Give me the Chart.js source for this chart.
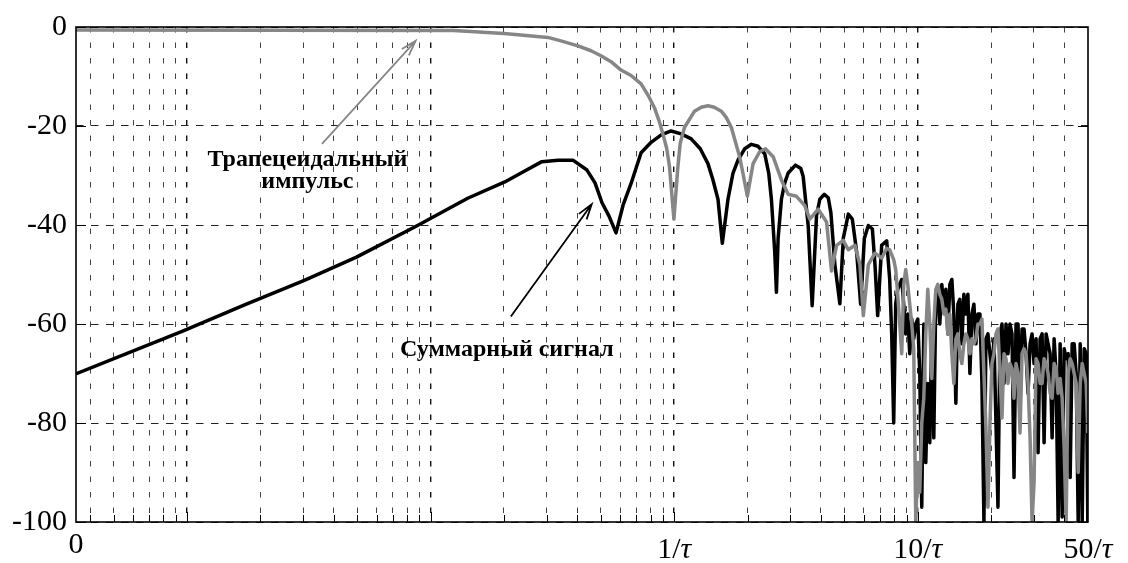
<!DOCTYPE html>
<html>
<head>
<meta charset="utf-8">
<script src="https://cdn.jsdelivr.net/npm/chart.js@4.4.0/dist/chart.umd.min.js"></script>
<style>
  html, body { margin: 0; padding: 0; background: #fff; }
  #wrap { width: 1128px; height: 563px; }
</style>
</head>
<body>
<div id="wrap"><canvas id="spectrum"></canvas></div>
<script>
// Frequency in units of 1/τ (log axis), level in dB.
const X_MIN = 0.0035;
const X_MAX = 50;

const yTicks = [0, -20, -40, -60, -80, -100];

// x tick labels: value, numerator text, "/τ" follows unless '0'
const xTickVals  = [X_MIN, 1, 10, 50];
const xTickTexts = ['0', '1/', '10/', '50/'];

// Суммарный сигнал (black)
const sumFreq = [
  0.00349, 0.00954, 0.01732, 0.03031, 0.04961, 0.08759, 0.1420, 0.2016, 0.2414, 0.2862,
  0.3332, 0.3840, 0.4385, 0.4731, 0.5055, 0.5401, 0.5771, 0.6167, 0.6653, 0.7314,
  0.8042, 0.8843, 0.9720, 1.0686, 1.1749, 1.2797, 1.376, 1.443, 1.513, 1.576,
  1.663, 1.7442, 1.828, 1.9474, 2.075, 2.2105, 2.353, 2.4442, 2.507, 2.587,
  2.629, 2.6712, 2.756, 2.8439, 2.937, 3.148, 3.3103, 3.385, 3.549, 3.686,
  3.840, 3.9622, 4.130, 4.2915, 4.3985, 4.568, 4.789, 4.9456, 5.186, 5.3864,
  5.6105, 5.828, 6.0357, 6.267, 6.5116, 6.674, 6.846, 7.1107, 7.456,
  7.6695, 7.8163, 7.9659, 8.1183, 8.2737, 8.4320, 8.5934, 8.7578, 8.9254, 9.0962,
  9.2703, 9.4477, 9.6285, 9.8128, 10.0006, 10.192, 10.387, 10.586, 10.788, 10.995,
  11.205, 11.420, 11.638, 11.861, 12.088, 12.319, 12.555, 12.795, 13.040, 13.290,
  13.544, 13.803, 14.067, 14.337, 14.611, 14.891, 15.176, 15.466, 15.762, 16.064,
  16.371, 16.684, 17.004, 17.329, 17.661, 17.999, 18.343, 18.694, 19.052, 19.417,
  19.788, 20.167, 20.553, 20.946, 21.347, 21.756, 22.172, 22.596, 23.029, 23.470,
  23.919, 24.377, 24.843, 25.319, 25.803, 26.297, 26.800, 27.313, 27.836, 28.369,
  28.912, 29.465, 30.029, 30.604, 31.189, 31.786, 32.395, 33.015, 33.647, 34.291,
  34.947, 35.616, 36.297, 36.992, 37.700, 38.422, 39.157, 39.907, 40.670, 41.449,
  42.242, 43.051, 43.875, 44.714, 45.570, 46.443, 47.331, 48.237, 49.161, 49.9
];
const sumDb = [
  -70.1, -61.5, -56.1, -51.2, -46.5, -40.2, -34.6, -31.3, -29.2, -27.2,
  -26.9, -26.9, -28.9, -31.5, -35.5, -38.2, -41.6, -36.0, -31.6, -25.4,
  -23.3, -21.8, -21.0, -21.6, -22.6, -24.6, -27.6, -30.9, -34.8, -43.7,
  -34.8, -29.5, -26.9, -24.6, -23.7, -24.1, -25.6, -29.5, -34.8, -45.4,
  -53.6, -42.7, -34.8, -31.5, -29.5, -27.9, -28.6, -30.2, -40.1, -56.3,
  -38.1, -34.8, -33.8, -34.5, -37.5, -48.0, -55.9, -42.7, -37.8, -38.8,
  -45.4, -56.0, -42.7, -40.1, -40.8, -48.0, -58.3, -44.1, -43.2,
  -51, -62, -80, -56, -53, -52, -51, -56, -62, -58,
  -66, -59, -63, -60, -59, -70, -97, -60, -88, -72,
  -84, -62, -83, -55, -53, -60, -52, -57, -53, -62,
  -52, -51, -58, -76, -56, -55, -64, -54, -58, -54,
  -70, -58, -56, -64, -58, -58, -72, -100, -63, -62,
  -66, -70, -63, -80, -97, -62, -60, -72, -60, -66,
  -60, -62, -91, -60, -60, -77, -61, -61, -66, -74,
  -64, -62, -68, -63, -86, -63, -62, -84, -62, -64,
  -66, -83, -63, -70, -100, -64, -99, -65, -67, -66,
  -91, -64, -64, -70, -100, -64, -100, -65, -66, -100
];

// Трапецеидальный импульс (gray)
const trapFreq = [
  0.00349, 0.1244, 0.1997, 0.2346, 0.3030, 0.3427, 0.4025, 0.4555, 0.5005, 0.5505,
  0.6050, 0.6653, 0.7314, 0.7816, 0.8297, 0.8675, 0.8986, 0.9314, 0.9565, 0.9972,
  1.0356, 1.0585, 1.102, 1.212, 1.2917, 1.376, 1.4607, 1.561, 1.6368, 1.717,
  1.856, 1.9231, 1.997, 2.108, 2.244, 2.369, 2.548, 2.756, 2.937, 3.177,
  3.438, 3.605, 3.903, 4.222, 4.427, 4.642, 4.946, 5.186, 5.521, 5.789,
  5.978, 6.267, 6.673, 7.111, 7.456,
  7.6695, 7.8163, 7.9659, 8.1183, 8.2737, 8.4320, 8.5934, 8.7578, 8.9254, 9.0962,
  9.2703, 9.4477, 9.6285, 9.8128, 10.0006, 10.192, 10.387, 10.586, 10.788, 10.995,
  11.205, 11.420, 11.638, 11.861, 12.088, 12.319, 12.555, 12.795, 13.040, 13.290,
  13.544, 13.803, 14.067, 14.337, 14.611, 14.891, 15.176, 15.466, 15.762, 16.064,
  16.371, 16.684, 17.004, 17.329, 17.661, 17.999, 18.343, 18.694, 19.052, 19.417,
  19.788, 20.167, 20.553, 20.946, 21.347, 21.756, 22.172, 22.596, 23.029, 23.470,
  23.919, 24.377, 24.843, 25.319, 25.803, 26.297, 26.800, 27.313, 27.836, 28.369,
  28.912, 29.465, 30.029, 30.604, 31.189, 31.786, 32.395, 33.015, 33.647, 34.291,
  34.947, 35.616, 36.297, 36.992, 37.700, 38.422, 39.157, 39.907, 40.670, 41.449,
  42.242, 43.051, 43.875, 44.714, 45.570, 46.443, 47.331, 48.237, 49.161, 49.9
];
const trapDb = [
  -0.6, -0.7, -1.3, -1.6, -2.1, -2.8, -3.8, -4.8, -5.8, -7.0,
  -8.7, -9.8, -11.5, -13.8, -16.3, -19.0, -21.6, -24.5, -28.2, -38.8,
  -28.2, -23.5, -20.3, -17.0, -16.2, -15.9, -16.2, -17.0, -18.3, -20.3,
  -26.2, -30.0, -34.2, -27.6, -25.2, -24.6, -26.2, -30.9, -33.8, -34.2,
  -36.1, -38.8, -36.8, -39.4, -49.3, -44.1, -43.1, -45.0, -44.1, -48.0,
  -58.3, -48.0, -45.7, -46.7, -44.7,
  -45, -46, -47, -49, -54, -60, -66, -52, -49, -52,
  -56, -60, -65, -100, -88, -94, -80, -75, -62, -53,
  -60, -71, -60, -53, -52, -54, -55, -58, -57, -62,
  -58, -66, -72, -63, -62, -66, -68, -64, -62, -63,
  -66, -63, -64, -63, -60, -60, -59, -70, -81, -97,
  -80, -68, -66, -62, -61, -70, -79, -66, -67, -72,
  -68, -69, -75, -68, -70, -82, -66, -65, -66, -72,
  -83, -100, -92, -67, -68, -72, -72, -67, -68, -70,
  -74, -75, -68, -69, -74, -71, -75, -85, -100, -70,
  -67, -68, -70, -72, -90, -72, -68, -70, -72, -82
];

// Annotations in data coordinates
const trapLabel = { x: 0.0312, y1: -26.8, y2: -31.2, lines: ['Трапецеидальный', 'импульс'] };
const trapArrow = { x0: 0.0358, y0: -23.6, x1: 0.0868, y1: -2.8 };
const sumLabel  = { x: 0.2055, y: -65.2, text: 'Суммарный сигнал' };
const sumArrow  = { x0: 0.2135, y0: -58.5, x1: 0.4585, y1: -35.8 };

const SERIF = '"Liberation Serif", "Times New Roman", serif';
const GRAY  = '#868686';

// log grid positions: every integer multiple inside each decade
const gridVals = [];
for (let d = 0.001; d < 100; d *= 10) {
  for (let k = 1; k < 10; k++) {
    const v = +(k * d).toPrecision(3);
    if (v > X_MIN && v < X_MAX) gridVals.push(v);
  }
}
const isDecade = v => Math.abs(Math.log10(v) - Math.round(Math.log10(v))) < 1e-6;

function toXY(xs, ys) {
  return xs.map((x, i) => ({ x: x, y: ys[i] }));
}

function arrow(ctx, xs, ys, a, color) {
  const x0 = xs.getPixelForValue(a.x0), y0 = ys.getPixelForValue(a.y0);
  const x1 = xs.getPixelForValue(a.x1), y1 = ys.getPixelForValue(a.y1);
  const ang = Math.atan2(y1 - y0, x1 - x0);
  const len = 16, spread = 0.3;
  ctx.save();
  ctx.strokeStyle = color;
  ctx.lineWidth = 1.8;
  ctx.beginPath();
  ctx.moveTo(x0, y0);
  ctx.lineTo(x1, y1);
  ctx.moveTo(x1 - len * Math.cos(ang - spread), y1 - len * Math.sin(ang - spread));
  ctx.lineTo(x1, y1);
  ctx.lineTo(x1 - len * Math.cos(ang + spread), y1 - len * Math.sin(ang + spread));
  ctx.stroke();
  ctx.restore();
}

const decorPlugin = {
  id: 'decor',
  afterDatasetsDraw(chart) {
    const { ctx, chartArea: a, scales: { x, y } } = chart;

    // frame
    ctx.save();
    ctx.strokeStyle = '#000';
    ctx.lineWidth = 1.6;
    ctx.strokeRect(a.left, a.top, a.right - a.left, a.bottom - a.top);

    // small inward ticks on the edges
    ctx.lineWidth = 1;
    ctx.beginPath();
    gridVals.forEach(v => {
      const px = Math.round(x.getPixelForValue(v)) + 0.5;
      ctx.moveTo(px, a.bottom);
      ctx.lineTo(px, a.bottom - (isDecade(v) ? 10 : 7));
    });
    yTicks.forEach(v => {
      const py = Math.round(y.getPixelForValue(v)) + 0.5;
      ctx.moveTo(a.left, py);  ctx.lineTo(a.left + 10, py);
      ctx.moveTo(a.right, py); ctx.lineTo(a.right - 10, py);
    });
    ctx.stroke();

    // x tick labels with italic tau
    ctx.fillStyle = '#000';
    ctx.textBaseline = 'alphabetic';
    xTickVals.forEach((v, i) => {
      const px = x.getPixelForValue(v);
      const num = xTickTexts[i];
      const hasTau = num !== '0';
      ctx.font = '30px ' + SERIF;
      const wNum = ctx.measureText(num).width;
      ctx.font = 'italic 30px ' + SERIF;
      const wTau = hasTau ? ctx.measureText('τ').width : 0;
      const start = px - (wNum + wTau) / 2;
      ctx.font = '30px ' + SERIF;
      ctx.textAlign = 'left';
      ctx.fillText(num, start, hasTau ? 558 : 553);
      if (hasTau) {
        ctx.font = 'italic 30px ' + SERIF;
        ctx.fillText('τ', start + wNum, 558);
      }
    });

    // annotations
    ctx.font = 'bold 24px ' + SERIF;
    ctx.textAlign = 'center';
    ctx.textBaseline = 'middle';
    ctx.fillText(trapLabel.lines[0], x.getPixelForValue(trapLabel.x), y.getPixelForValue(trapLabel.y1));
    ctx.fillText(trapLabel.lines[1], x.getPixelForValue(trapLabel.x), y.getPixelForValue(trapLabel.y2));
    ctx.fillText(sumLabel.text, x.getPixelForValue(sumLabel.x), y.getPixelForValue(sumLabel.y));
    ctx.restore();

    arrow(ctx, x, y, trapArrow, GRAY);
    arrow(ctx, x, y, sumArrow, '#000');
  }
};

new Chart(document.getElementById('spectrum'), {
  type: 'line',
  data: {
    datasets: [
      {
        label: 'Трапецеидальный импульс',
        data: toXY(trapFreq, trapDb),
        borderColor: GRAY,
        borderWidth: 3.5,
        borderJoinStyle: 'round',
        pointRadius: 0,
        tension: 0,
      },
      {
        label: 'Суммарный сигнал',
        data: toXY(sumFreq, sumDb),
        borderColor: '#000',
        borderWidth: 3.5,
        borderJoinStyle: 'round',
        pointRadius: 0,
        tension: 0,
      },
    ],
  },
  options: {
    responsive: true,
    maintainAspectRatio: false,
    animation: false,
    layout: { padding: { top: 17, right: 40, bottom: 40, left: 0 } },
    plugins: {
      legend:  { display: false },
      tooltip: { enabled: false },
    },
    scales: {
      x: {
        type: 'logarithmic',
        min: X_MIN,
        max: X_MAX,
        afterBuildTicks: s => { s.ticks = gridVals.map(v => ({ value: v, major: isDecade(v) })); },
        afterFit: s => { s.height = 1; },
        ticks: { display: false, autoSkip: false },
        grid: {
          color: ctx => (ctx.tick && isDecade(ctx.tick.value)) ? '#111' : '#444',
          lineWidth: ctx => (ctx.tick && isDecade(ctx.tick.value)) ? 1.4 : 1,
          drawTicks: false,
        },
        border: { display: false, dash: [5.5, 10] },
      },
      y: {
        min: -100,
        max: 0,
        afterBuildTicks: s => { s.ticks = yTicks.map(v => ({ value: v })); },
        afterFit: s => { s.width = 76; },
        ticks: {
          color: '#000',
          font: { family: SERIF, size: 30 },
          padding: 9,
        },
        grid: { color: '#222', lineWidth: 1, drawTicks: false },
        border: { display: false, dash: [7.5, 7.5] },
      },
    },
  },
  plugins: [decorPlugin],
});
</script>
</body>
</html>
